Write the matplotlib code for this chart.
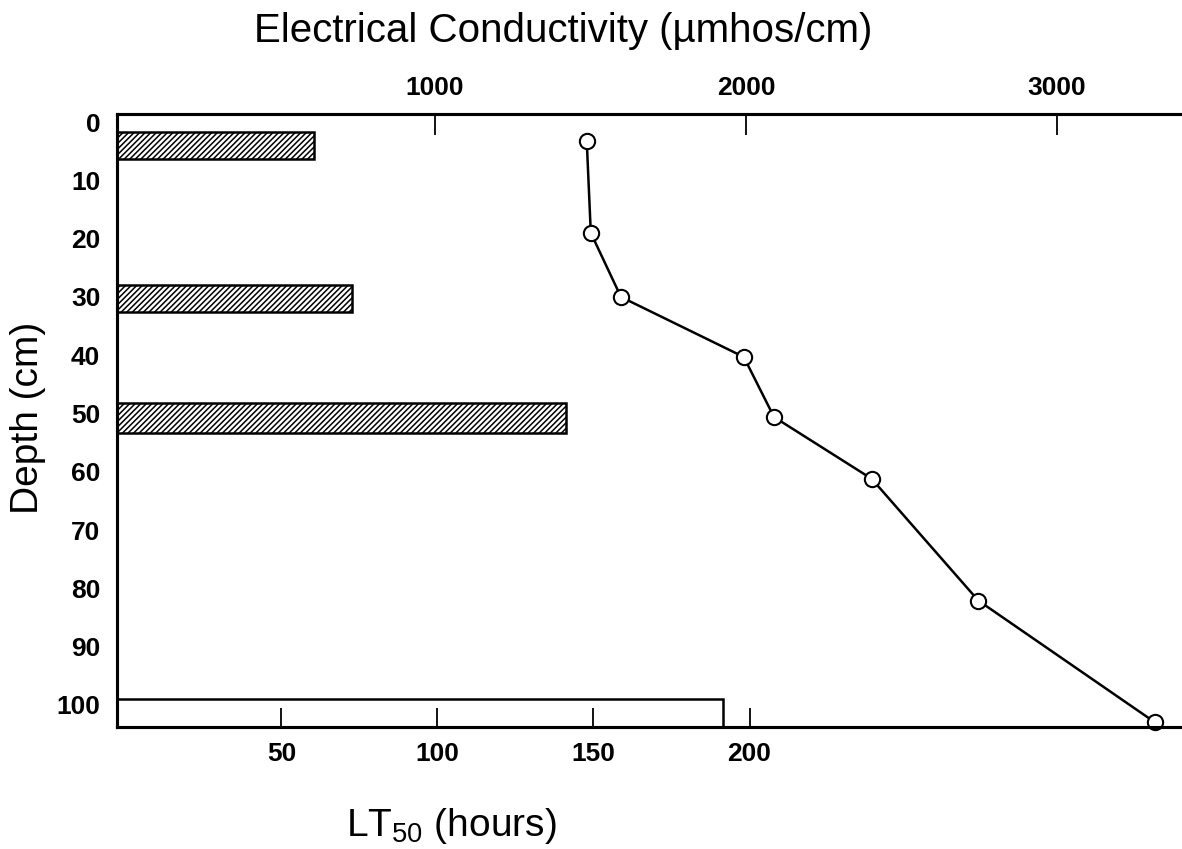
import matplotlib.pyplot as plt

plt.rcParams['font.family'] = ['Liberation Sans', 'DejaVu Sans']
plt.rcParams['mathtext.default'] = 'regular'
plt.rcParams['hatch.linewidth'] = 1.1

# LT50 bars (hours) by depth band (cm)
bar_top = [1.7, 28.0, 48.2, 99.0]
bar_bottom = [6.3, 32.6, 53.3, 103.8]
lt50 = [60.4, 72.6, 141.2, 191.5]
bar_hatch = ['//////', '//////', '//////', '']

# electrical conductivity profile
ec_depth = [3.3, 19.0, 30.0, 40.3, 50.6, 61.2, 82.1, 103.0]
ec_value = [1488, 1501, 1598, 1993, 2090, 2404, 2747, 3315]

depth_ticks = list(range(0, 101, 10))
lt50_ticks = [50, 100, 150, 200]
ec_ticks = [1000, 2000, 3000]

xmin = -2.7

fig = plt.figure(figsize=(11.82, 8.49), dpi=100)
ax = fig.add_axes([117 / 1182, 1 - 727 / 849, 1 - 117 / 1182, (727 - 114) / 849])

# bars start at the left spine
for t, b, w, h in zip(bar_top, bar_bottom, lt50, bar_hatch):
    ax.barh(t, w - xmin, height=b - t, left=xmin, align='edge', color='white',
            edgecolor='black', linewidth=1.8, hatch=h)

ax.set_xlim(xmin, 338.6)
ax.set_ylim(103.8, -1.4)
ax.set_xticks(lt50_ticks)
ax.set_yticks(depth_ticks)
ax.tick_params(axis='x', direction='in', length=14, width=1.3, pad=11, labelsize=19)
ax.tick_params(axis='y', length=0, pad=12, labelsize=19)
for lab in ax.get_xticklabels() + ax.get_yticklabels():
    lab.set_fontweight('bold')
ax.spines['right'].set_visible(False)
for s in ['left', 'bottom', 'top']:
    ax.spines[s].set_linewidth(2.2)

ax2 = ax.twiny()
ax2.plot(ec_value, ec_depth, color='black', linewidth=1.8, marker='o', markersize=11,
         markerfacecolor='white', markeredgecolor='black', markeredgewidth=1.5, clip_on=False)
ax2.set_xlim(-22.5, 3402)
ax2.set_xticks(ec_ticks)
ax2.tick_params(axis='x', direction='in', length=15, width=1.3, pad=10, labelsize=19)
for lab in ax2.get_xticklabels():
    lab.set_fontweight('bold')
ax2.spines['right'].set_visible(False)
for s in ['left', 'bottom', 'top']:
    ax2.spines[s].set_linewidth(2.2)

fig.text(563 / 1182, 1 - 31 / 849, 'Electrical Conductivity (µmhos/cm)',
         ha='center', va='center', fontsize=29)
fig.text(451 / 1182, 1 - 826 / 849, 'LT$_{50}$ (hours)', ha='center', va='center', fontsize=28)
fig.text(28 / 1182, 1 - 418 / 849, 'Depth (cm)', ha='center', va='center',
         rotation=90, fontsize=28)

fig.savefig('out.png', dpi=100)
